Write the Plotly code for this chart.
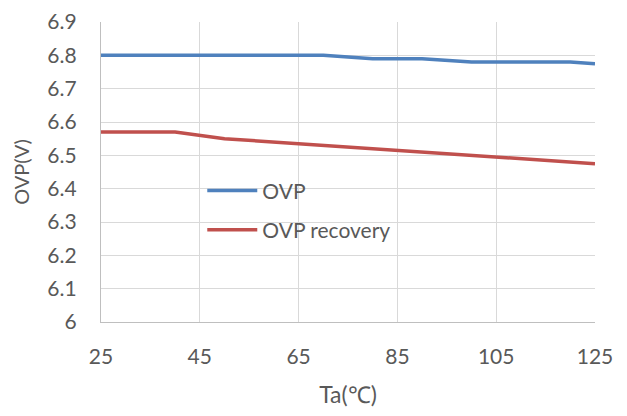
import plotly.graph_objects as go

ta = [25, 30, 40, 50, 60, 70, 80, 90, 100, 110, 120, 125]
ovp = [6.80, 6.80, 6.80, 6.80, 6.80, 6.80, 6.79, 6.79, 6.78, 6.78, 6.78, 6.775]
ovp_rec = [6.57, 6.57, 6.57, 6.55, 6.54, 6.53, 6.52, 6.51, 6.50, 6.49, 6.48, 6.475]
x_ticks = [25, 45, 65, 85, 105, 125]
y_ticks = [6.0, 6.1, 6.2, 6.3, 6.4, 6.5, 6.6, 6.7, 6.8, 6.9]
y_labels = ["6", "6.1", "6.2", "6.3", "6.4", "6.5", "6.6", "6.7", "6.8", "6.9"]

FONT = "Lato"
GREY = "#595959"

fig = go.Figure()
fig.add_trace(go.Scatter(x=ta, y=ovp, mode="lines", name="OVP", legendgroup="a",
                         line=dict(color="#4f81bd", width=3.5)))
fig.add_trace(go.Scatter(x=ta, y=ovp_rec, mode="lines", name="OVP recovery", legendgroup="b",
                         line=dict(color="#c0504d", width=3.5)))

fig.update_layout(
    width=627, height=416,
    margin=dict(l=101, r=32, t=22, b=94, autoexpand=False),
    paper_bgcolor="white", plot_bgcolor="white",
    font=dict(family=FONT, color=GREY, size=21),
    showlegend=True,
    legend=dict(x=0.205, y=0.372, xanchor="left", yanchor="middle",
                bgcolor="rgba(0,0,0,0)", font=dict(size=21, color=GREY),
                itemwidth=50,
                traceorder="grouped", tracegroupgap=9),
    xaxis=dict(range=[25, 125], tickvals=x_ticks, ticktext=[str(v) for v in x_ticks],
               showgrid=True, gridcolor="#d9d9d9", gridwidth=1.3,
               showline=True, linecolor="#bfbfbf", linewidth=1.3,
               zeroline=False, ticks="", ticklabelstandoff=16,
               tickfont=dict(size=21),
               title=dict(text="Ta(℃)", font=dict(size=23, color=GREY), standoff=19)),
    yaxis=dict(range=[6.0, 6.9], tickvals=y_ticks, ticktext=y_labels,
               showgrid=True, gridcolor="#d9d9d9", gridwidth=1.3,
               showline=True, linecolor="#bfbfbf", linewidth=1.3,
               zeroline=False, ticks="", ticklabelstandoff=19,
               tickfont=dict(size=21),
               title=dict(text="OVP(V)", font=dict(size=20, color=GREY), standoff=12)),
)

fig.write_html("out.html", config={"displayModeBar": False},
               post_script="document.body.style.margin='0';")
